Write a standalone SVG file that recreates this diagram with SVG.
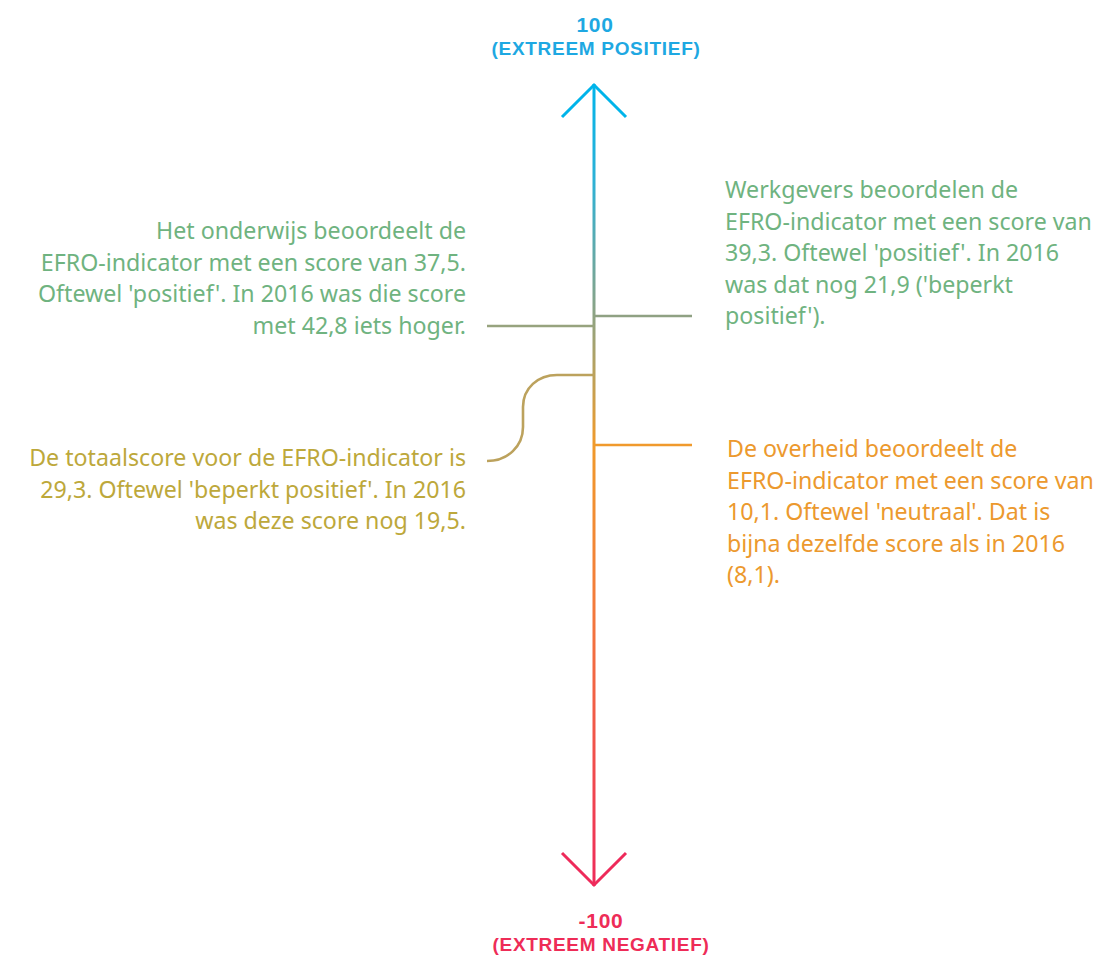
<svg xmlns="http://www.w3.org/2000/svg" width="1098" height="956" viewBox="0 0 1098 956">
<style>
.t{font-family:"Noto Sans","Open Sans","Liberation Sans",sans-serif;font-size:23.2px}
.e{text-anchor:end}
.h{font-family:"Liberation Sans",Arial,sans-serif;font-weight:bold;font-size:19px;text-anchor:middle;letter-spacing:0.7px}
.n{font-size:21px}
.g{fill:#6fb380}
.gold{fill:#bda83b}
.o{fill:#ec992e}
.c{fill:none;stroke-width:2.6}
</style>
<defs>
<linearGradient id="ax" gradientUnits="userSpaceOnUse" x1="0" y1="83" x2="0" y2="886">
<stop offset="0" stop-color="#00b4ea"/>
<stop offset="0.12" stop-color="#2cb1d6"/>
<stop offset="0.29" stop-color="#8ea383"/>
<stop offset="0.36" stop-color="#b9a15c"/>
<stop offset="0.45" stop-color="#f09a2b"/>
<stop offset="0.65" stop-color="#f37a3a"/>
<stop offset="1" stop-color="#ee2a5a"/>
</linearGradient>
</defs>
<g id="connectors">
<line x1="594" y1="84" x2="594" y2="886" stroke="url(#ax)" stroke-width="3"/>
<polyline points="562,117 594,85 626,117" fill="none" stroke="#00b4ea" stroke-width="3"/>
<polyline points="562,853 594,885 626,853" fill="none" stroke="#ee2a5a" stroke-width="3"/>
<line class="c" x1="594" y1="316" x2="692" y2="316" stroke="#8fa183"/>
<line class="c" x1="487" y1="326" x2="594" y2="326" stroke="#97a37e"/>
<path class="c" d="M594,375 H557 C538,375 523,388 523,407 V427 C523,446 508,461 487,461" stroke="#bca25d"/>
<line class="c" x1="594" y1="445" x2="692" y2="445" stroke="#f09a2d"/>
</g>
<g id="top-label">
<text class="h n" x="595" y="32" fill="#1ea8e2">100</text>
<text class="h" x="596" y="55" fill="#1ea8e2">(EXTREEM POSITIEF)</text>
</g>
<g id="bottom-label">
<text class="h n" x="601" y="928" fill="#ee2c57">-100</text>
<text class="h" x="601" y="951" fill="#ee2c57">(EXTREEM NEGATIEF)</text>
</g>
<g id="onderwijs">
<text class="t g e" x="466" y="239">Het onderwijs beoordeelt de</text>
<text class="t g e" x="466" y="270.5">EFRO-indicator met een score van 37,5.</text>
<text class="t g e" x="466" y="302">Oftewel 'positief'. In 2016 was die score</text>
<text class="t g e" x="466" y="333.5">met 42,8 iets hoger.</text>
</g>
<g id="totaal">
<text class="t gold e" x="466" y="466">De totaalscore voor de EFRO-indicator is</text>
<text class="t gold e" x="466" y="497.5">29,3. Oftewel 'beperkt positief'. In 2016</text>
<text class="t gold e" x="466" y="529">was deze score nog 19,5.</text>
</g>
<g id="werkgevers">
<text class="t g" x="725" y="198">Werkgevers beoordelen de</text>
<text class="t g" x="725" y="229.5">EFRO-indicator met een score van</text>
<text class="t g" x="725" y="261">39,3. Oftewel 'positief'. In 2016</text>
<text class="t g" x="725" y="292.5">was dat nog 21,9 ('beperkt</text>
<text class="t g" x="725" y="324">positief').</text>
</g>
<g id="overheid">
<text class="t o" x="727" y="457">De overheid beoordeelt de</text>
<text class="t o" x="727" y="488.5">EFRO-indicator met een score van</text>
<text class="t o" x="727" y="520">10,1. Oftewel 'neutraal'. Dat is</text>
<text class="t o" x="727" y="551.5">bijna dezelfde score als in 2016</text>
<text class="t o" x="727" y="583">(8,1).</text>
</g>
</svg>
